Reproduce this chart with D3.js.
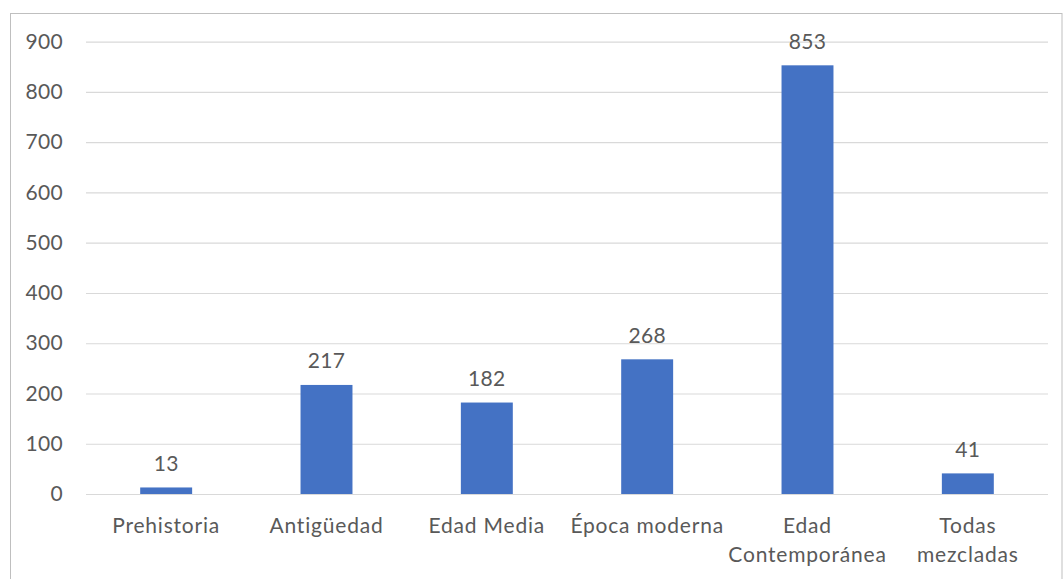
<!DOCTYPE html>
<html>
<head>
<meta charset="utf-8">
<script src="https://cdn.jsdelivr.net/npm/d3@7"></script>
<style>
  html, body { margin: 0; padding: 0; background: #fff; }
  svg { display: block; }
  text { font-family: Lato, "Noto Sans", sans-serif; fill: #595959; }
</style>
</head>
<body>
<svg id="chart" width="1064" height="579"></svg>
<script>
// Número de registros por periodo histórico
const categories = [
  ["Prehistoria"],
  ["Antigüedad"],
  ["Edad Media"],
  ["Época moderna"],
  ["Edad", "Contemporánea"],
  ["Todas", "mezcladas"]
];
const values = [13, 217, 182, 268, 853, 41];
const yTicks = [0, 100, 200, 300, 400, 500, 600, 700, 800, 900];

const svg = d3.select("#chart");
const W = 1064, H = 579;

// Marco del gráfico
svg.append("rect")
  .attr("x", 10.5).attr("y", 13.5)
  .attr("width", 1051.5).attr("height", H + 10)
  .attr("fill", "none").attr("stroke", "#bfbfbf").attr("stroke-width", 1);

const plotLeft = 86, plotRight = 1048, plotTop = 41.7, plotBottom = 494;

const x = d3.scaleBand()
  .domain(d3.range(categories.length))
  .range([plotLeft, plotRight])
  .paddingInner(0.676)
  .paddingOuter(0.338);

const xCenter = d3.scaleBand()
  .domain(d3.range(categories.length))
  .range([plotLeft, plotRight]);

const y = d3.scaleLinear().domain([0, 900]).range([plotBottom, plotTop]);

// Líneas de cuadrícula y etiquetas del eje Y
const yAxis = d3.axisLeft(y)
  .tickValues(yTicks)
  .tickSize(-(plotRight - plotLeft))
  .tickPadding(23);

const gy = svg.append("g")
  .attr("transform", `translate(${plotLeft},0)`)
  .call(yAxis);
gy.select(".domain").remove();
gy.selectAll(".tick line").attr("stroke", "#d9d9d9").attr("stroke-width", 1.2);
gy.selectAll(".tick text")
  .attr("font-size", 21)
  .attr("fill", "#595959")
  .attr("letter-spacing", 0.3)
  .attr("font-family", "Lato, 'Noto Sans', sans-serif");

// Barras
svg.append("g").selectAll("rect")
  .data(values)
  .join("rect")
  .attr("x", (d, i) => x(i))
  .attr("width", x.bandwidth())
  .attr("y", d => y(d))
  .attr("height", d => y(0) - y(d))
  .attr("fill", "#4472c4");

// Etiquetas de valor
svg.append("g").selectAll("text")
  .data(values)
  .join("text")
  .attr("x", (d, i) => xCenter(i) + xCenter.bandwidth() / 2)
  .attr("y", d => y(d) - 16.5)
  .attr("text-anchor", "middle")
  .attr("font-size", 21)
  .attr("letter-spacing", 0.3)
  .attr("fill", "#404040")
  .text(d => d);

// Etiquetas de categoría
const cat = svg.append("g").selectAll("text")
  .data(categories)
  .join("text")
  .attr("x", (d, i) => xCenter(i) + xCenter.bandwidth() / 2)
  .attr("y", 533)
  .attr("text-anchor", "middle")
  .attr("letter-spacing", 0.8)
  .attr("font-size", 21);
cat.selectAll("tspan")
  .data(d => d)
  .join("tspan")
  .attr("x", function () { return this.parentNode.getAttribute("x"); })
  .attr("dy", (d, j) => j === 0 ? 0 : 28.5)
  .text(d => d);
</script>
</body>
</html>
